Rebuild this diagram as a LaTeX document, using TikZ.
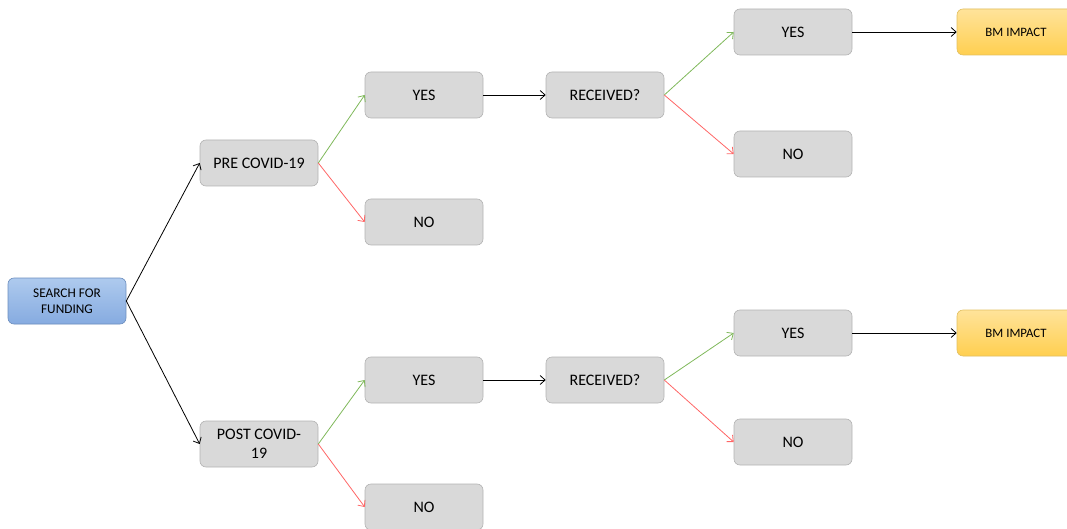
\documentclass[tikz,border=0pt]{standalone}
\usepackage{fontspec}
\setmainfont{Carlito}
\usetikzlibrary{arrows.meta}
\definecolor{boxfill}{HTML}{D9D9D9}
\definecolor{boxline}{HTML}{B3B3B3}
\definecolor{bluetop}{HTML}{AECAEE}
\definecolor{bluebot}{HTML}{86ABE0}
\definecolor{blueline}{HTML}{6C8EBF}
\definecolor{orgtop}{HTML}{FFE39A}
\definecolor{orgbot}{HTML}{FFCF50}
\definecolor{orgline}{HTML}{E3C060}
\definecolor{yesgreen}{HTML}{7FB85A}
\definecolor{nored}{HTML}{FF6666}
\tikzset{
  box/.style={draw=boxline, fill=boxfill, rounded corners=6pt, minimum width=118pt, minimum height=46pt, align=center, font=\fontsize{16}{19}\selectfont, inner sep=2pt, line width=0.6pt},
  startbox/.style={box, draw=blueline, top color=bluetop, bottom color=bluebot, font=\fontsize{13.3}{16}\selectfont},
  endbox/.style={box, draw=orgline, top color=orgtop, bottom color=orgbot, font=\fontsize{12.8}{15}\selectfont},
  link/.style={-{Straight Barb[length=5pt,width=9pt]}, line width=0.8pt},
  yeslink/.style={link, draw=yesgreen},
  nolink/.style={link, draw=nored},
}
\begin{document}
\begin{tikzpicture}[x=1pt,y=-1pt]
\useasboundingbox (0,0) rectangle (1067,529);
\node[startbox] (search) at (67,301) {SEARCH FOR\\FUNDING};
\node[box] (pre) at (259,163) {PRE COVID-19};
\node[box] (post) at (259,444) {POST COVID-\\19};
\node[box] (yes1) at (424,95) {YES};
\node[box] (no1) at (424,222) {NO};
\node[box] (rec1) at (605,95) {RECEIVED?};
\node[box] (yes2) at (793,32) {YES};
\node[box] (no2) at (793,154) {NO};
\node[endbox] (bm1) at (1016,32) {BM IMPACT};
\node[box] (yes3) at (424,380) {YES};
\node[box] (no3) at (424,507) {NO};
\node[box] (rec2) at (605,380) {RECEIVED?};
\node[box] (yes4) at (793,333) {YES};
\node[box] (no4) at (793,442) {NO};
\node[endbox] (bm2) at (1016,333) {BM IMPACT};
\draw[link] (search.east) -- (pre.west);
\draw[link] (search.east) -- (post.west);
\draw[yeslink] (pre.east) -- (yes1.west);
\draw[nolink] (pre.east) -- (no1.west);
\draw[link] (yes1.east) -- (rec1.west);
\draw[yeslink] (rec1.east) -- (yes2.west);
\draw[nolink] (rec1.east) -- (no2.west);
\draw[link] (yes2.east) -- (bm1.west);
\draw[yeslink] (post.east) -- (yes3.west);
\draw[nolink] (post.east) -- (no3.west);
\draw[link] (yes3.east) -- (rec2.west);
\draw[yeslink] (rec2.east) -- (yes4.west);
\draw[nolink] (rec2.east) -- (no4.west);
\draw[link] (yes4.east) -- (bm2.west);
\end{tikzpicture}
\end{document}
